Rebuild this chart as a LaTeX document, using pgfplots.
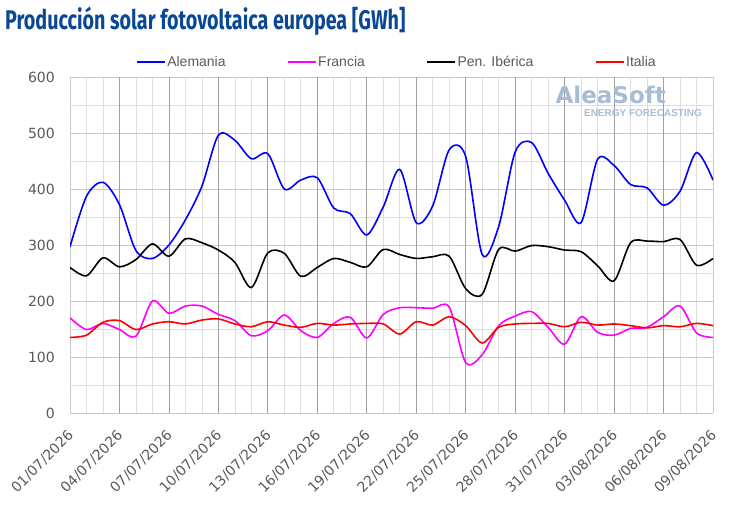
\documentclass[border=0pt]{standalone}
\usepackage{pgfplots}
\pgfplotsset{compat=1.18}
\usepackage{fontspec}
\setmainfont{Liberation Sans}
\newfontfamily\tickfont{DejaVu Sans}
\newfontfamily\titlefont[FakeStretch=0.73]{Fira Sans}
\definecolor{titleblue}{RGB}{10,72,150}
\definecolor{labgray}{RGB}{89,89,89}
\definecolor{gridmid}{RGB}{200,200,200}
\definecolor{gridlight}{RGB}{222,222,222}
\definecolor{griddark}{RGB}{160,160,160}
\definecolor{wmark}{RGB}{168,188,214}
\definecolor{cA}{RGB}{0,0,255}
\definecolor{cF}{RGB}{255,0,255}
\definecolor{cP}{RGB}{0,0,0}
\definecolor{cI}{RGB}{255,0,0}
\begin{document}
\begin{tikzpicture}
\path[use as bounding box] (0bp,0bp) rectangle (730bp,509bp);
\node[anchor=base west, text=titleblue, inner sep=0pt,
      font=\titlefont\bfseries\fontsize{27bp}{30bp}\selectfont]
  at (5bp,479bp) {Producción solar fotovoltaica europea [GWh]};
\begin{axis}[
  at={(70bp,96bp)}, anchor=south west,
  scale only axis, width=643bp, height=336bp,
  xmin=0, xmax=39, ymin=0, ymax=600,
  axis line style={draw=none},
  major tick length=0pt, minor tick length=0pt,
  xtick={0,3,...,39},
  xticklabels={01/07/2026,04/07/2026,07/07/2026,10/07/2026,13/07/2026,16/07/2026,19/07/2026,22/07/2026,25/07/2026,28/07/2026,31/07/2026,03/08/2026,06/08/2026,09/08/2026},
  minor x tick num=2,
  ytick={0,100,...,600},
  minor y tick num=1,
  grid=both,
  major grid style={draw=gridmid, line width=0.8bp},
  minor grid style={draw=gridlight, line width=0.7bp},
  extra x ticks={3,6,...,36},
  extra x tick labels={},
  extra x tick style={grid=major, major grid style={draw=griddark, line width=0.8bp}},
  /pgf/number format/assume math mode=true,
  ticklabel style={font=\tickfont\fontsize{14bp}{16bp}\selectfont, text=labgray},
  yticklabel style={anchor=east, inner sep=0pt, xshift=-15bp},
  xticklabel style={yshift=-20bp, xshift=1bp, rotate=45, anchor=east, inner sep=0pt},
  legend style={at={(0.1026,1.0446)}, anchor=west, draw=none, fill=none,
    legend columns=4, inner sep=0pt,
    font=\fontsize{14bp}{16bp}\selectfont, text=labgray,
    nodes={inner sep=1.5bp},
    /tikz/every even column/.append style={column sep=60bp}},
  legend image code/.code={\draw[#1, line width=1.6bp] (0bp,0bp) -- (28bp,0bp);},
  every axis plot/.append style={line width=1.6bp, smooth, tension=0.5},
]
\node[anchor=base west, inner sep=0pt, text=wmark,
      font=\tickfont\bfseries\fontsize{23bp}{25bp}\selectfont]
  at (rel axis cs:0.755,0.9226) {AleaSoft};
\node[anchor=base east, inner sep=0pt, text=wmark,
      font=\bfseries\fontsize{10bp}{12bp}\selectfont]
  at (rel axis cs:0.983,0.881) {ENERGY FORECASTING};

\addplot[cA] coordinates {(0,297)(1,387)(2,412)(3,372)(4,290)(5,276)(6,300)(7,345)(8,405)(9,496)(10,487)(11,454)(12,463)(13,400)(14,416)(15,420)(16,366)(17,356)(18,318)(19,368)(20,435)(21,340)(22,370)(23,470)(24,458)(25,283)(26,333)(27,466)(28,483)(29,428)(30,380)(31,340)(32,453)(33,442)(34,408)(35,402)(36,371)(37,396)(38,465)(39,416)};
\addlegendentry{Alemania}
\addplot[cF] coordinates {(0,170)(1,149)(2,160)(3,149)(4,137)(5,200)(6,178)(7,191)(8,191)(9,176)(10,165)(11,138)(12,147)(13,175)(14,147)(15,135)(16,160)(17,171)(18,134)(19,176)(20,188)(21,188)(22,187)(23,189)(24,90)(25,104)(26,156)(27,173)(28,181)(29,153)(30,123)(31,172)(32,144)(33,139)(34,151)(35,153)(36,172)(37,191)(38,143)(39,135)};
\addlegendentry{Francia}
\addplot[cP] coordinates {(0,260)(1,245)(2,277)(3,261)(4,274)(5,302)(6,280)(7,311)(8,304)(9,291)(10,269)(11,224)(12,286)(13,285)(14,244)(15,260)(16,276)(17,269)(18,261)(19,292)(20,283)(21,276)(22,279)(23,280)(24,222)(25,212)(26,292)(27,289)(28,299)(29,297)(30,291)(31,288)(32,263)(33,236)(34,304)(35,307)(36,306)(37,310)(38,264)(39,276)};
\addlegendentry{Pen. Ibérica}
\addplot[cI] coordinates {(0,135)(1,139)(2,162)(3,165)(4,149)(5,159)(6,163)(7,159)(8,166)(9,168)(10,159)(11,154)(12,163)(13,157)(14,153)(15,160)(16,157)(17,159)(18,160)(19,159)(20,141)(21,163)(22,157)(23,172)(24,156)(25,125)(26,153)(27,159)(28,160)(29,160)(30,154)(31,162)(32,157)(33,159)(34,156)(35,152)(36,156)(37,154)(38,160)(39,156)};
\addlegendentry{Italia}
\end{axis}
\end{tikzpicture}
\end{document}
